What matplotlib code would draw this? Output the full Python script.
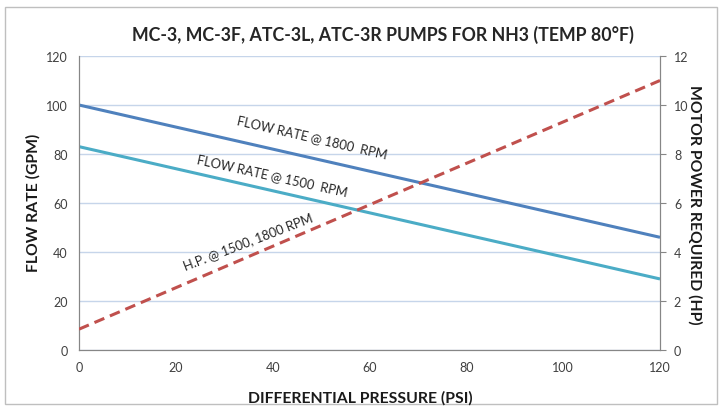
import matplotlib
matplotlib.use("Agg")
import matplotlib.pyplot as plt
from matplotlib.patches import Rectangle

# Data
pressure = [0, 120]
flow_1800 = [100, 46]
flow_1500 = [83, 29]
hp = [0.85, 11.0]
x_ticks = [0, 20, 40, 60, 80, 100, 120]
left_ticks = [0, 20, 40, 60, 80, 100, 120]
right_ticks = [0, 2, 4, 6, 8, 10, 12]

plt.rcParams['font.family'] = ['Lato', 'DejaVu Sans']

fig = plt.figure(figsize=(7.22, 4.10), dpi=100)
fig.patches.append(Rectangle((5/722, 1-405/410), 712/722, 397/410, transform=fig.transFigure,
                             fill=False, edgecolor='#BFBFBF', linewidth=1))
ax = fig.add_axes([79/722, 1-351/410, (660-79)/722, (351-57)/410])
ax2 = ax.twinx()

ax.plot(pressure, flow_1800, color='#4F81BD', lw=2.2, solid_capstyle='butt', zorder=3)
ax.plot(pressure, flow_1500, color='#4BACC6', lw=2.2, solid_capstyle='butt', zorder=3)
ax2.plot(pressure, hp, color='#C0504D', lw=2.2, dashes=(3.5, 2), zorder=3)

ax.set_xlim(0, 120)
ax.set_ylim(0, 120)
ax2.set_ylim(0, 12)
ax.set_xticks(x_ticks)
ax.set_yticks(left_ticks)
ax2.set_yticks(right_ticks)
ax.yaxis.grid(True, color='#C6D5EA', lw=1)
ax.set_axisbelow(True)

for a in (ax, ax2):
    a.spines['top'].set_visible(False)
    for s in ('left', 'right', 'bottom'):
        a.spines[s].set_color('#868686')
ax.tick_params(axis='x', length=0, labelsize=9, labelcolor='#404040', pad=8)
ax.tick_params(axis='y', length=0, labelsize=9, labelcolor='#404040', pad=8)
ax2.tick_params(axis='y', length=4, color='#868686', labelsize=9, labelcolor='#404040', pad=6)

fig.text(360/722, 1-398/410, 'DIFFERENTIAL PRESSURE (PSI)', ha='center', va='center',
         fontsize=11.3, fontweight='bold', color='#1a1a1a')
fig.text(33/722, 1-203/410, 'FLOW RATE (GPM)', ha='center', va='center', rotation=90,
         fontsize=11.3, fontweight='bold', color='#1a1a1a')
fig.text(695/722, 1-205/410, 'MOTOR POWER REQUIRED (HP)', ha='center', va='center', rotation=-90,
         fontsize=11.3, fontweight='bold', color='#1a1a1a')

fig.text(383/722, 1-35/410, 'MC-3, MC-3F, ATC-3L, ATC-3R PUMPS FOR NH3 (TEMP 80°F)',
         ha='center', va='center', fontsize=12.8, fontweight='bold', color='#262626')

ax.text(312/722, 1-137/410, 'FLOW RATE @ 1800  RPM', transform=fig.transFigure,
        rotation=-13, ha='center', va='center', fontsize=9.3, color='#262626', rotation_mode='anchor')
ax.text(272/722, 1-176/410, 'FLOW RATE @ 1500  RPM', transform=fig.transFigure,
        rotation=-12.5, ha='center', va='center', fontsize=9.3, color='#262626', rotation_mode='anchor')
ax.text(248/722, 1-242/410, 'H.P. @ 1500, 1800 RPM', transform=fig.transFigure,
        rotation=21, ha='center', va='center', fontsize=9.3, color='#262626', rotation_mode='anchor')

fig.savefig('out.png', dpi=100)
